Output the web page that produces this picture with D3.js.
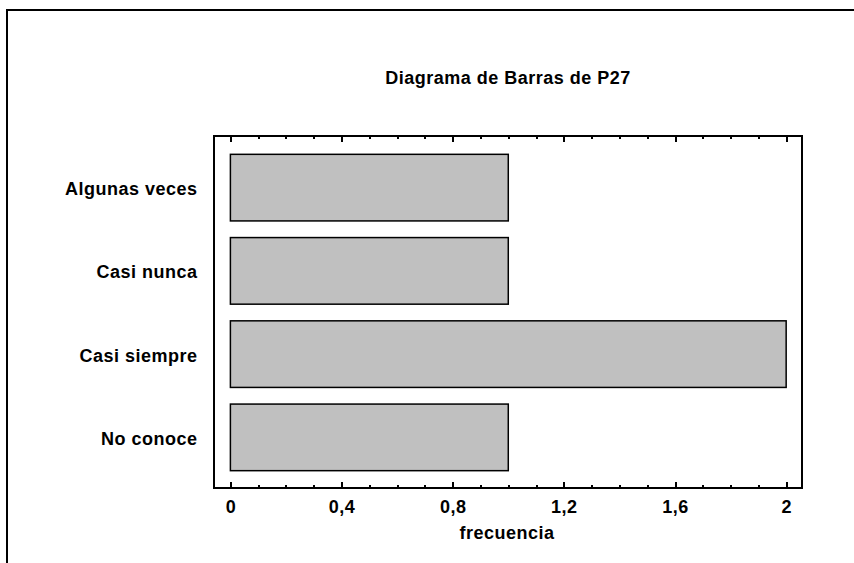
<!DOCTYPE html>
<meta charset="utf-8">
<style>
 body { margin: 0; background: #fff; }
 svg text { font-family: "Liberation Sans", Arial, sans-serif; font-weight: bold; fill: #000; letter-spacing: 0.5px; }
 .axis path { display: none; }
 .axis line { stroke: #000; stroke-width: 2; shape-rendering: crispEdges; }
</style>
<body>
<script src="https://cdn.jsdelivr.net/npm/d3@7"></script>
<script>

 var categories = ["Algunas veces", "Casi nunca", "Casi siempre", "No conoce"];
 var frecuencia = [1, 1, 2, 1];
 var majorTicks = [0, 0.4, 0.8, 1.2, 1.6, 2];
 var minorTicks = d3.range(0, 21).map(function(i) { return i / 10; });
 var title = "Diagrama de Barras de P27";
 var xTitle = "frecuencia";

 var width = 854, height = 563;
 var plot = {left: 214, top: 136, right: 802, bottom: 488};

 var data = categories.map(function(c, i) { return {cat: c, val: frecuencia[i]}; });

 var svg = d3.select("body").append("svg")
             .attr("width", width)
             .attr("height", height);

 // outer frame (only top and left edges fall inside the picture)
 svg.append("path")
    .attr("d", "M7," + (height + 5) + "V10H" + (width + 5))
    .attr("fill", "none")
    .attr("stroke", "#000")
    .attr("stroke-width", 2);

 var xScale = d3.scaleLinear()
                .domain([-0.059, 2.057])
                .range([plot.left, plot.right]);

 var yScale = d3.scaleBand()
                .domain(categories)
                .range([146, 479])
                .paddingInner(0.2)
                .paddingOuter(0.1);

 // title
 svg.append("text")
    .attr("x", 508)
    .attr("y", 84)
    .attr("text-anchor", "middle")
    .style("font-size", "18px")
    .text(title);

 // bars
 svg.append("g").selectAll("rect")
    .data(data)
    .enter().append("rect")
    .attr("x", xScale(0))
    .attr("y", function(d) { return yScale(d.cat); })
    .attr("width", function(d) { return xScale(d.val) - xScale(0); })
    .attr("height", yScale.bandwidth())
    .attr("fill", "#c0c0c0")
    .attr("stroke", "#000")
    .attr("stroke-width", 1.5);

 // minor ticks bottom / top
 svg.append("g")
    .attr("class", "axis")
    .attr("transform", "translate(0," + plot.bottom + ")")
    .call(d3.axisBottom(xScale).tickValues(minorTicks).tickSize(-3).tickFormat(""));
 svg.append("g")
    .attr("class", "axis")
    .attr("transform", "translate(0," + plot.top + ")")
    .call(d3.axisTop(xScale).tickValues(minorTicks).tickSize(-3).tickFormat(""));

 // major ticks
 var gX = svg.append("g")
    .attr("class", "axis")
    .attr("transform", "translate(0," + plot.bottom + ")")
    .call(d3.axisBottom(xScale).tickValues(majorTicks).tickSize(-6).tickPadding(12)
          .tickFormat(function(d) { return String(d).replace(".", ","); }));
 gX.selectAll("text").style("font-size", "18px");
 svg.append("g")
    .attr("class", "axis")
    .attr("transform", "translate(0," + plot.top + ")")
    .call(d3.axisTop(xScale).tickValues(majorTicks).tickSize(-6).tickFormat(""));

 // y labels
 svg.append("g").selectAll("text")
    .data(categories)
    .enter().append("text")
    .attr("x", 197.5)
    .attr("y", function(d) { return yScale(d) + yScale.bandwidth() / 2; })
    .attr("dy", "0.42em")
    .attr("text-anchor", "end")
    .style("font-size", "18px")
    .text(function(d) { return d; });

 // plot border
 svg.append("rect")
    .attr("x", plot.left)
    .attr("y", plot.top)
    .attr("width", plot.right - plot.left)
    .attr("height", plot.bottom - plot.top)
    .attr("fill", "none")
    .attr("stroke", "#000")
    .attr("stroke-width", 2);

 // x title
 svg.append("text")
    .attr("x", 507)
    .attr("y", 539)
    .attr("text-anchor", "middle")
    .style("font-size", "18px")
    .text(xTitle);

</script>
